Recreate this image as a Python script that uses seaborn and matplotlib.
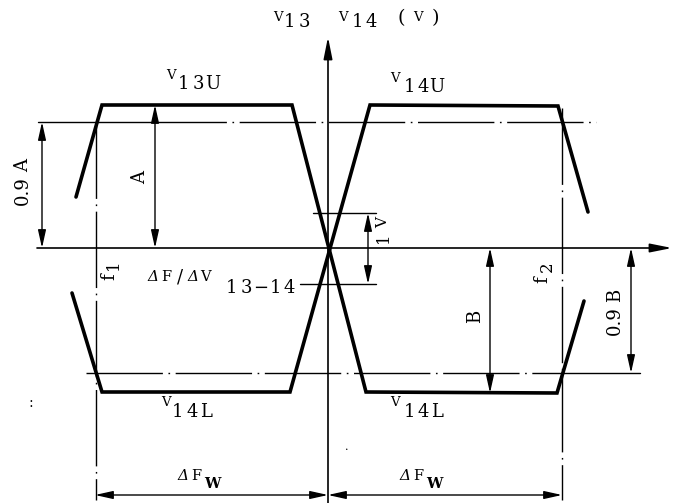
import matplotlib
matplotlib.use("Agg")
import matplotlib.pyplot as plt
import seaborn as sns
import pandas as pd

# ---- data (diagram geometry, pixel-like units) ----
v13_x = [76, 102, 292, 366, 557, 584]
v13_y = [197, 105, 105, 392, 393, 301]
v14_x = [72, 102, 290, 370, 558, 588]
v14_y = [293, 392, 392, 105, 106, 212]

level_09A = 122      # 0.9A level
level_09B = 373      # 0.9B level
axis_y = 248         # horizontal axis
axis_x = 328         # vertical axis
f1_x = 96
f2_x = 562
one_volt = [213, 284]

sns.set_theme(style="white")
plt.rcParams['font.family'] = ['DejaVu Serif', 'DejaVu Sans']

fig = plt.figure(figsize=(6.78, 5.03), dpi=100)
ax = fig.add_axes([0, 0, 1, 1])

df = pd.DataFrame({
    "x": v13_x + v14_x,
    "y": v13_y + v14_y,
    "curve": ["V13"] * len(v13_x) + ["V14"] * len(v14_x),
})
sns.lineplot(data=df, x="x", y="y", units="curve", estimator=None, sort=False,
             color="black", lw=2.6, ax=ax, legend=False)
for ln in ax.lines:
    ln.set_solid_joinstyle("miter")

K = "black"
thin = 1.0
dashdot = (0, (55, 4, 1.2, 4))

# dash-dot reference lines
ax.plot([38, 150], [level_09A, level_09A], color=K, lw=thin)
ax.plot([150, 596], [level_09A, level_09A], color=K, lw=thin, ls=dashdot)
ax.plot([86, 563], [level_09B, level_09B], color=K, lw=thin, ls=dashdot)
ax.plot([563, 640], [level_09B, level_09B], color=K, lw=thin)
ax.plot([f1_x, f1_x], [122, 500], color=K, lw=thin, ls=dashdot)
ax.plot([f2_x, f2_x], [108, 500], color=K, lw=thin, ls=dashdot)

# axes
ax.annotate("", xy=(672, axis_y), xytext=(37, axis_y),
            arrowprops=dict(arrowstyle="-|>,head_length=1.1,head_width=0.22",
                            color=K, lw=1.2, shrinkA=0, shrinkB=0))
ax.annotate("", xy=(axis_x, 37), xytext=(axis_x, 503),
            arrowprops=dict(arrowstyle="-|>,head_length=1.1,head_width=0.22",
                            color=K, lw=1.2, shrinkA=0, shrinkB=0))

def dim(p0, p1):
    ax.annotate("", xy=p1, xytext=p0,
                arrowprops=dict(arrowstyle="<|-|>,head_length=0.9,head_width=0.2",
                                color=K, lw=thin, shrinkA=0, shrinkB=0))

dim((42, level_09A), (42, axis_y))
dim((155, 105), (155, axis_y))
dim((490, axis_y), (490, 393))
dim((631, axis_y), (631, level_09B))
dim((368, one_volt[0]), (368, one_volt[1]))
dim((95, 495), (axis_x, 495))
dim((axis_x, 495), (f2_x, 495))

# 1V ticks and leader
ax.plot([313, 376], [one_volt[0], one_volt[0]], color=K, lw=thin)
ax.plot([300, 376], [one_volt[1], one_volt[1]], color=K, lw=thin)

ax.set_xlim(0, 678)
ax.set_ylim(503, 0)
ax.axis("off")

# ---- text ----
def put(s, x, y, fs, pitch=0, rot=0, **kw):
    for i, ch in enumerate(s):
        if rot == 0:
            xi, yi = x + i * pitch, y
        else:
            xi, yi = x, y - i * pitch
        ax.text(xi, yi, ch, fontsize=fs, rotation=rot, ha="center", va="center",
                color=K, **kw)

D = 13   # digit size
S = 9.5  # small V size

# title
put("V", 278, 17, S); put("13", 290, 22, D, 14)
put("V", 343, 17, S); put("14", 357, 22, D, 14)
put("(", 401, 18, 14); put("V", 418, 17, S); put(")", 435, 18, 14)

# curve labels
put("V", 171, 75, S); put("13U", 184, 84, D, 14.5)
put("V", 395, 78, S); put("14U", 409, 87, D, 14)
put("V", 166, 403, S); put("14L", 178, 412, D, 14)
put("V", 395, 403, S); put("14L", 409, 412, D, 14)

# slope label
put("Δ", 153, 277, 11, style="italic"); put("F", 166, 277, 10.5)
put("/", 180, 277, 13)
put("Δ", 193, 277, 11, style="italic"); put("V", 205, 277, 10.5)
put("13", 232, 288, D, 14); put("−", 261, 288, D); put("14", 275, 288, D, 14)

# bottom widths
put("Δ", 183, 476, 11, style="italic"); put("F", 196, 476, 10.5); put("W", 212, 484, 10.5, weight="bold")
put("Δ", 405, 476, 11, style="italic"); put("F", 418, 476, 10.5); put("W", 434, 484, 10.5, weight="bold")

# rotated labels
ax.text(23, 191, "0.9", fontsize=13, rotation=90, ha="center", va="center", color=K)
put("A", 23, 166, 13, rot=90)
put("A", 140, 178, 13, rot=90)
put("1", 383, 238, 12, rot=90); put("V", 383, 223, 11, rot=90)
put("f", 109, 277, 13, rot=90); put("1", 113, 265, 12, rot=90)
put("f", 542, 280, 13, rot=90); put("2", 547, 267, 12, rot=90)
put("B", 475, 316, 13, rot=90)
ax.text(615, 321, "0.9", fontsize=13, rotation=90, ha="center", va="center", color=K)
put("B", 615, 295, 13, rot=90)

put(":", 31, 403, 10)
put(".", 347, 447, 8)

fig.savefig("out.png", dpi=100)
